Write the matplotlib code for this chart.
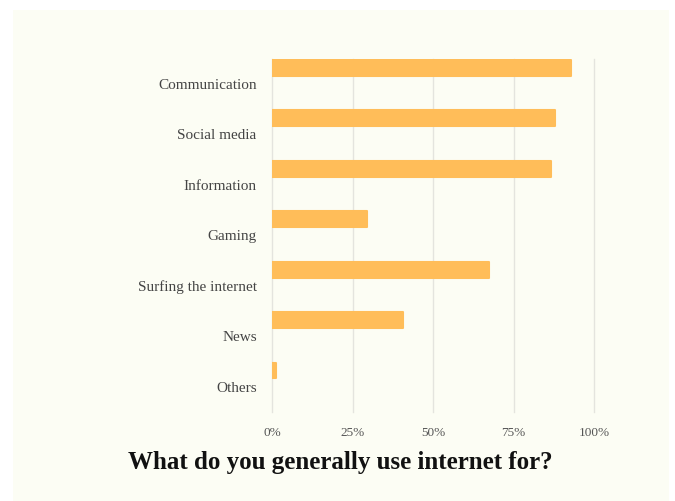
import numpy as np
import matplotlib.pyplot as plt
from matplotlib.patches import Rectangle

# Survey answers, share of respondents in percent
categories = ["Communication", "Social media", "Information", "Gaming",
              "Surfing the internet", "News", "Others"]
shares = [92.9, 87.9, 86.8, 29.5, 67.4, 40.7, 1.2]
ticks = [0, 25, 50, 75, 100]
tick_labels = ["0%", "25%", "50%", "75%", "100%"]

bg = "#fcfdf4"
bar_color = "#ffbd59"
serif = ["Liberation Serif", "DejaVu Serif"]

fig = plt.figure(figsize=(6.75, 5.01), dpi=100)
fig.patch.set_facecolor("white")
# cream panel behind everything
fig.patches.append(Rectangle((13 / 675, 0), 656 / 675, 491 / 501,
                             transform=fig.transFigure, facecolor=bg,
                             edgecolor="none", zorder=-5))

ax = fig.add_axes([272 / 675, 1 - 412 / 501, 322 / 675, (412 - 58.75) / 501])
ax.patch.set_alpha(0)

y = np.arange(len(categories))
ax.barh(y - 0.32, shares, height=0.31, color=bar_color, edgecolor=bar_color,
        linewidth=1.5, joinstyle="round", zorder=3)

ax.set_xlim(0, 100)
ax.set_ylim(6.5, -0.5)
ax.set_xticks(ticks)
ax.set_xticklabels(tick_labels, fontsize=9.5, color="#555555", family=serif)
ax.set_yticks(y)
ax.set_yticklabels(categories, fontsize=11, color="#444444", family=serif)
ax.tick_params(length=0, pad=11)
ax.tick_params(axis="x", pad=11)
ax.grid(axis="x", color="#e4e4de", linewidth=1, zorder=0)
# keep the edge gridlines (0% and 100%) fully visible
for gl in ax.get_xgridlines():
    gl.set_clip_on(False)
for s in ax.spines.values():
    s.set_visible(False)

fig.text(340 / 675, 1 - 462 / 501, "What do you generally use internet for?",
         ha="center", va="center", fontsize=18, fontweight="bold",
         color="#111111", family=serif)

fig.savefig("out.png", dpi=100, facecolor="white")
